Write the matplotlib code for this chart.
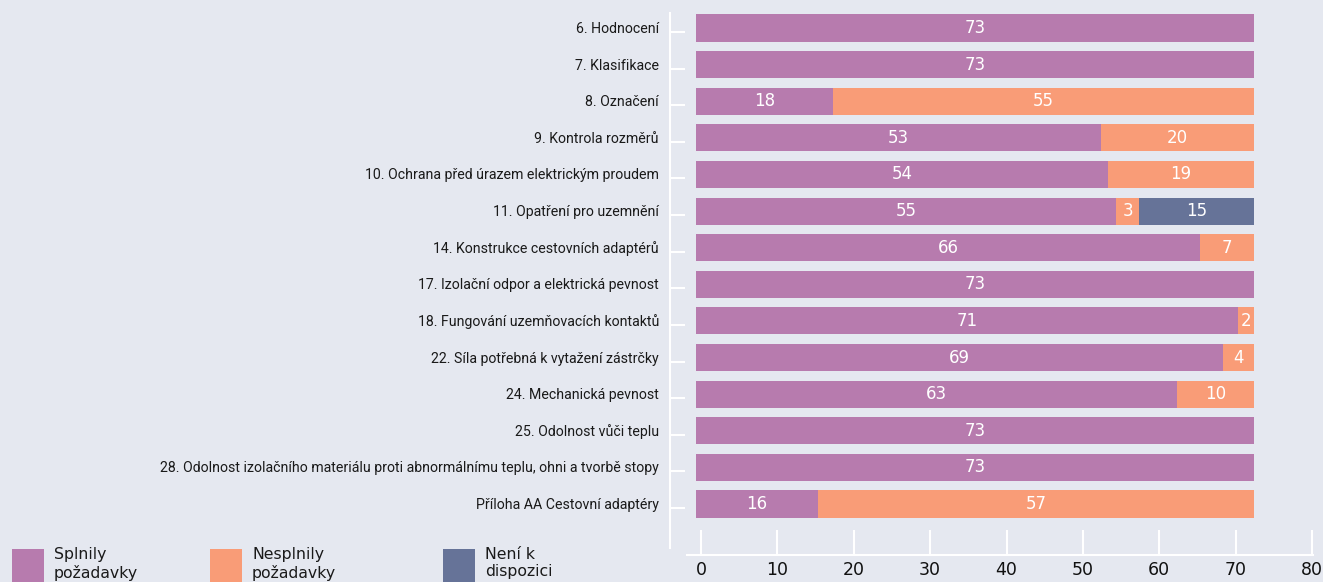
import matplotlib
matplotlib.use("Agg")
import matplotlib.pyplot as plt
from matplotlib.patches import Rectangle
from matplotlib.transforms import ScaledTranslation, blended_transform_factory
import numpy as np

categories = [
    "6. Hodnocení",
    "7. Klasifikace",
    "8. Označení",
    "9. Kontrola rozměrů",
    "10. Ochrana před úrazem elektrickým proudem",
    "11. Opatření pro uzemnění",
    "14. Konstrukce cestovních adaptérů",
    "17. Izolační odpor a elektrická pevnost",
    "18. Fungování uzemňovacích kontaktů",
    "22. Síla potřebná k vytažení zástrčky",
    "24. Mechanická pevnost",
    "25. Odolnost vůči teplu",
    "28. Odolnost izolačního materiálu proti abnormálnímu teplu, ohni a tvorbě stopy",
    "Příloha AA Cestovní adaptéry",
]
splnily = [73, 73, 18, 53, 54, 55, 66, 73, 71, 69, 63, 73, 73, 16]
nesplnily = [0, 0, 55, 20, 19, 3, 7, 0, 2, 4, 10, 0, 0, 57]
neni = [0, 0, 0, 0, 0, 15, 0, 0, 0, 0, 0, 0, 0, 0]
series_names = ["Splnily\npožadavky", "Nesplnily\npožadavky", "Není k\ndispozici"]
colors = ["#b77bae", "#f99c77", "#667398"]
xticks = [0, 10, 20, 30, 40, 50, 60, 70, 80]

BG = "#e5e8f0"
W, H = 1323, 582
fig = plt.figure(figsize=(W / 100, H / 100), dpi=100, facecolor=BG)

def fx(px):
    return px / W

def fy(py):
    return 1 - py / H

ax = fig.add_axes([fx(687), fy(555), fx(1313) - fx(687), fy(13) - fy(555)])
ax.set_facecolor(BG)

# bars are drawn slightly offset from the axis ticks (as in the reference)
shift = ScaledTranslation(-5 / 100, 4 / 100, fig.dpi_scale_trans)
vshift = ScaledTranslation(0, 3 / 100, fig.dpi_scale_trans)

y = np.arange(len(categories))
left = np.zeros(len(categories))
for vals, col in zip([splnily, nesplnily, neni], colors):
    vals = np.array(vals, dtype=float)
    bars = ax.barh(y, vals, left=left, height=0.74, color=col, edgecolor="none")
    for p in bars.patches:
        p.set_transform(ax.transData + shift)
    for yi, l, v in zip(y, left, vals):
        if v > 0:
            ax.text(l + v / 2, yi, f"{int(v)}", ha="center", va="center",
                    color="white", fontsize=12, family="DejaVu Sans",
                    transform=ax.transData + shift)
    left = left + vals

# 0 at 701 px, 80 at 1312 px
ppu = (1312 - 701) / 80
ax.set_xlim(-(701 - 687) / ppu, 80 + (1313 - 1312) / ppu)
pitch = (508 - 32) / 13
ax.set_ylim(13 + (555 - 508) / pitch, -(32 - 13) / pitch)

# category labels (drawn as text, aligned with the bars)
ax.set_yticks(y)
ax.set_yticklabels([])
lab_tr = blended_transform_factory(fig.transFigure, ax.transData + vshift)
for yi, cat in zip(y, categories):
    fig.text(fx(659), yi, cat, transform=lab_tr, ha="right", va="center",
             family=["Roboto", "DejaVu Sans"], fontsize=10.15, color="#1a1a1a")

ax.set_xticks(xticks)
ax.set_xticklabels([str(t) for t in xticks], fontsize=12.5, color="#111111")

for s in ["top", "right"]:
    ax.spines[s].set_visible(False)
ax.spines["left"].set_position(("outward", 17 * 0.72))
ax.spines["left"].set_color("white")
ax.spines["left"].set_linewidth(1.5)
ax.spines["left"].set_bounds(-(32 - 13) / pitch, (548 - 32) / pitch)
ax.spines["bottom"].set_color("white")
ax.spines["bottom"].set_linewidth(1.5)

ax.tick_params(axis="y", direction="in", length=10.5, width=1.5, color="white", pad=8)
ax.tick_params(axis="x", direction="in", length=18, width=1.5, color="white", pad=4)

# legend
leg_x = [12, 210, 443]
for lx, name, col in zip(leg_x, series_names, colors):
    fig.patches.append(Rectangle((fx(lx), fy(585)), fx(32), fy(549) - fy(585),
                                 transform=fig.transFigure, facecolor=col,
                                 edgecolor="none"))
    fig.text(fx(lx + 42), fy(547), name, ha="left", va="top", fontsize=11.3,
             color="#1a1a1a", linespacing=1.2)

fig.savefig("out.png", dpi=100, facecolor=BG)
